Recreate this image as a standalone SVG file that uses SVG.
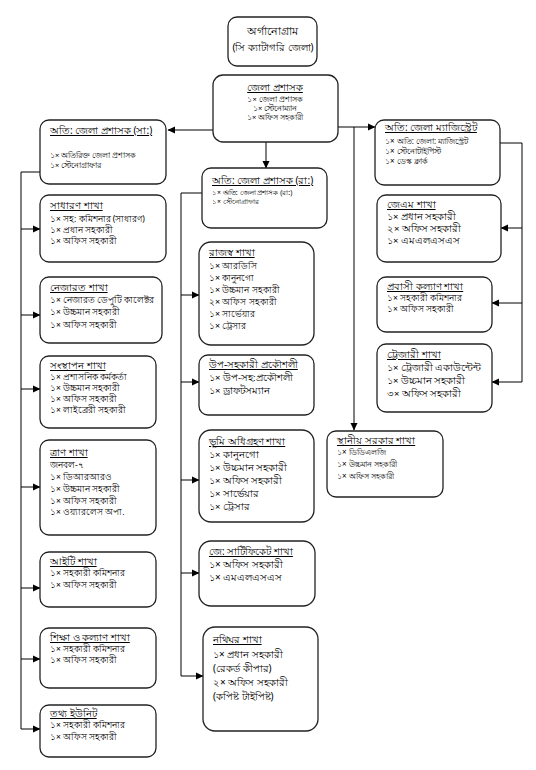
<svg xmlns="http://www.w3.org/2000/svg" width="536" height="770" viewBox="0 0 536 770">
<defs>
<marker id="ah" markerWidth="8" markerHeight="8" refX="7" refY="4" orient="auto" markerUnits="userSpaceOnUse">
<path d="M0,0.5 L7.5,4 L0,7.5 Z" fill="#000"/>
</marker>
<style>
.box{fill:#fff;stroke:#222;stroke-width:1.3}
text{font-family:"Noto Sans","DejaVu Sans",sans-serif;fill:#000}
.t{font-size:10px;text-decoration:underline}
.f7{font-size:7px}
.f75{font-size:7.5px}
.f8{font-size:8px}
.f85{font-size:8.5px}
.f9{font-size:9px}
.f95{font-size:9.5px}
.f10{font-size:10px}
.c{stroke:#000;stroke-width:1;fill:none}
</style>
</defs>
<rect width="536" height="770" fill="#fff"/>

<g id="connectors">
<line class="c" x1="213" y1="130" x2="168" y2="130" marker-end="url(#ah)"/>
<line class="c" x1="338" y1="127" x2="375" y2="127" marker-end="url(#ah)"/>
<line class="c" x1="266" y1="142" x2="266" y2="168" marker-end="url(#ah)"/>
<line class="c" x1="354" y1="127" x2="354" y2="430" marker-end="url(#ah)"/>
<polyline class="c" points="40,172 21,172 21,729"/>
<line class="c" x1="21" y1="229" x2="40" y2="229" marker-end="url(#ah)"/>
<line class="c" x1="21" y1="315" x2="40" y2="315" marker-end="url(#ah)"/>
<line class="c" x1="21" y1="389" x2="40" y2="389" marker-end="url(#ah)"/>
<line class="c" x1="21" y1="487" x2="40" y2="487" marker-end="url(#ah)"/>
<line class="c" x1="21" y1="588" x2="40" y2="588" marker-end="url(#ah)"/>
<line class="c" x1="21" y1="659" x2="40" y2="659" marker-end="url(#ah)"/>
<line class="c" x1="21" y1="729" x2="40" y2="729" marker-end="url(#ah)"/>
<polyline class="c" points="202,193 181,193 181,676"/>
<line class="c" x1="181" y1="295" x2="199" y2="295" marker-end="url(#ah)"/>
<line class="c" x1="181" y1="382" x2="199" y2="382" marker-end="url(#ah)"/>
<line class="c" x1="181" y1="480" x2="199" y2="480" marker-end="url(#ah)"/>
<line class="c" x1="181" y1="573" x2="199" y2="573" marker-end="url(#ah)"/>
<line class="c" x1="181" y1="676" x2="203" y2="676" marker-end="url(#ah)"/>
<polyline class="c" points="500,143 522,143 522,382"/>
<line class="c" x1="522" y1="228" x2="501" y2="228" marker-end="url(#ah)"/>
<line class="c" x1="522" y1="303" x2="492" y2="303" marker-end="url(#ah)"/>
<line class="c" x1="522" y1="382" x2="492" y2="382" marker-end="url(#ah)"/>
</g>

<g id="title">
<rect class="box" x="228" y="17" width="89" height="49" rx="9"/>
<text x="272" y="35" font-size="11" text-anchor="middle">অর্গানোগ্রাম</text>
<text x="273" y="51" font-size="10" text-anchor="middle">(সি ক্যাটাগরি জেলা)</text>
</g>

<g id="dc">
<rect class="box" x="213" y="75" width="125" height="67" rx="10"/>
<text class="t" x="275" y="91" text-anchor="middle">জেলা প্রশাসক</text>
<text class="f75" x="275" y="102" text-anchor="middle">১× জেলা প্রশাসক</text>
<text class="f75" x="275" y="111" text-anchor="middle">১× স্টেনোম্যান</text>
<text class="f75" x="275" y="120" text-anchor="middle">১× অফিস সহকারী</text>
</g>

<g id="adc-gen">
<rect class="box" x="40" y="120" width="126" height="64" rx="9"/>
<text class="t" x="50" y="134" font-size="9.5">অতি: জেলা প্রশাসক (সা:)</text>
<text class="f75" x="50" y="158">১× অতিরিক্ত জেলা প্রশাসক</text>
<text class="f75" x="50" y="168">১× স্টেনোগ্রাফার</text>
</g>

<g id="adc-rev">
<rect class="box" x="202" y="168" width="125" height="60" rx="9"/>
<text class="t" x="212" y="184">অতি: জেলা প্রশাসক (রা:)</text>
<text class="f7" x="212" y="195">১× অতি: জেলা প্রশাসক (রা:)</text>
<text class="f7" x="212" y="204">১× স্টেনোগ্রাফার</text>
</g>

<g id="adm">
<rect class="box" x="375" y="120" width="125" height="65" rx="9"/>
<text class="t" x="385" y="131">অতি: জেলা ম্যাজিস্ট্রেট</text>
<text class="f8" x="385" y="144">১× অতি: জেলা: ম্যাজিস্ট্রেট</text>
<text class="f8" x="385" y="154">১× স্টেনোটাইপিস্ট</text>
<text class="f8" x="385" y="164">১× ডেস্ক ক্লার্ক</text>
</g>

<g id="general">
<rect class="box" x="40" y="195" width="126" height="67" rx="9"/>
<text class="t" x="50" y="209">সাধারণ শাখা</text>
<text class="f85" x="50" y="222">১× সহ: কমিশনার (সাধারণ)</text>
<text class="f85" x="50" y="233">১× প্রধান সহকারী</text>
<text class="f85" x="50" y="244">১× অফিস সহকারী</text>
</g>

<g id="nezarat">
<rect class="box" x="40" y="277" width="122" height="66" rx="9"/>
<text class="t" x="50" y="291">নেজারত শাখা</text>
<text class="f85" x="50" y="303">১× নেজারত ডেপুটি কালেক্টর</text>
<text class="f85" x="50" y="315">১× উচ্চমান সহকারী</text>
<text class="f85" x="50" y="328">১× অফিস সহকারী</text>
</g>

<g id="establishment">
<rect class="box" x="40" y="356" width="116" height="72" rx="9"/>
<text class="t" x="50" y="369">সংস্থাপন শাখা</text>
<text class="f85" x="50" y="380">১× প্রশাসনিক কর্মকর্তা</text>
<text class="f85" x="50" y="391">১× উচ্চমান সহকারী</text>
<text class="f85" x="50" y="402">১× অফিস সহকারী</text>
<text class="f85" x="50" y="413">১× লাইব্রেরী সহকারী</text>
</g>

<g id="relief">
<rect class="box" x="40" y="440" width="116" height="95" rx="9"/>
<text class="t" x="50" y="456">ত্রাণ শাখা</text>
<text class="f85" x="50" y="468">জনবল-৭</text>
<text class="f85" x="50" y="480">১× ডিআরআরও</text>
<text class="f85" x="50" y="492">১× উচ্চমান সহকারী</text>
<text class="f85" x="50" y="504">১× অফিস সহকারী</text>
<text class="f85" x="50" y="515">১× ওয়্যারলেস অপা.</text>
</g>

<g id="it">
<rect class="box" x="40" y="552" width="116" height="55" rx="9"/>
<text class="t" x="50" y="565">আইটি শাখা</text>
<text class="f85" x="50" y="576">১× সহকারী কমিশনার</text>
<text class="f85" x="50" y="588">১× অফিস সহকারী</text>
</g>

<g id="education">
<rect class="box" x="40" y="628" width="116" height="60" rx="9"/>
<text class="t" x="50" y="641">শিক্ষা ও কল্যাণ শাখা</text>
<text class="f85" x="50" y="652">১× সহকারী কমিশনার</text>
<text class="f85" x="50" y="663">১× অফিস সহকারী</text>
</g>

<g id="info">
<rect class="box" x="40" y="705" width="116" height="52" rx="9"/>
<text class="t" x="50" y="717">তথ্য ইউনিট</text>
<text class="f85" x="50" y="728">১× সহকারী কমিশনার</text>
<text class="f85" x="50" y="740">১× অফিস সহকারী</text>
</g>

<g id="revenue">
<rect class="box" x="199" y="242" width="115" height="103" rx="12"/>
<text class="t" x="209" y="256" font-size="11">রাজস্ব শাখা</text>
<text class="f9" x="209" y="269">১× আরডিসি</text>
<text class="f9" x="209" y="281">১× কানুনগো</text>
<text class="f9" x="209" y="293">১× উচ্চমান সহকারী</text>
<text class="f9" x="209" y="305">২× অফিস সহকারী</text>
<text class="f9" x="209" y="317">১× সার্ভেয়ার</text>
<text class="f9" x="209" y="329">১× ট্রেসার</text>
</g>

<g id="engineer">
<rect class="box" x="199" y="355" width="115" height="60" rx="9"/>
<text class="t" x="209" y="368" font-size="9.5">উপ-সহকারী প্রকৌশলী</text>
<text class="f95" x="209" y="381">১× উপ-সহ:প্রকৌশলী</text>
<text class="f95" x="209" y="394">১× ড্রাফটসম্যান</text>
</g>

<g id="land">
<rect class="box" x="199" y="430" width="115" height="92" rx="12"/>
<text class="t" x="209" y="445">ভূমি অধিগ্রহণ শাখা</text>
<text class="f95" x="209" y="458">১× কানুনগো</text>
<text class="f95" x="209" y="471">১× উচ্চমান সহকারী</text>
<text class="f95" x="209" y="484">১× অফিস সহকারী</text>
<text class="f95" x="209" y="497">১× সার্ভেয়ার</text>
<text class="f95" x="209" y="510">১× ট্রেসার</text>
</g>

<g id="certificate">
<rect class="box" x="199" y="541" width="116" height="65" rx="12"/>
<text class="t" x="209" y="555">জে: সার্টিফিকেট শাখা</text>
<text class="f10" x="209" y="568">১× অফিস সহকারী</text>
<text class="f10" x="209" y="581">১× এমএলএসএস</text>
</g>

<g id="records">
<rect class="box" x="203" y="627" width="115" height="104" rx="12"/>
<text class="t" x="213" y="643">নথিঘর শাখা</text>
<text class="f10" x="213" y="658">১× প্রধান সহকারী</text>
<text class="f10" x="213" y="672">(রেকর্ড কীপার)</text>
<text class="f10" x="213" y="686">২× অফিস সহকারী</text>
<text class="f10" x="213" y="700">(কপিষ্ট টাইপিষ্ট)</text>
</g>

<g id="jm">
<rect class="box" x="377" y="195" width="124" height="67" rx="9"/>
<text class="t" x="387" y="208">জেএম শাখা</text>
<text class="f95" x="387" y="220">১× প্রধান সহকারী</text>
<text class="f95" x="387" y="232">২× অফিস সহকারী</text>
<text class="f95" x="387" y="244">১× এমএলএসএস</text>
</g>

<g id="expat">
<rect class="box" x="377" y="277" width="115" height="55" rx="9"/>
<text class="t" x="387" y="290">প্রবাসী কল্যাণ শাখা</text>
<text class="f85" x="387" y="301">১× সহকারী কমিশনার</text>
<text class="f85" x="387" y="312">১× অফিস সহকারী</text>
</g>

<g id="treasury">
<rect class="box" x="377" y="344" width="115" height="68" rx="9"/>
<text class="t" x="387" y="358" font-size="10.5">ট্রেজারী শাখা</text>
<text class="f95" x="387" y="371">১× ট্রেজারী একাউন্টেন্ট</text>
<text class="f95" x="387" y="384">১× উচ্চমান সহকারী</text>
<text class="f95" x="387" y="397">৩× অফিস সহকারী</text>
</g>

<g id="local-gov">
<rect class="box" x="327" y="431" width="116" height="66" rx="9"/>
<text class="t" x="337" y="444">স্থানীয় সরকার শাখা</text>
<text class="f8" x="337" y="455">১× ডিডিএলজি</text>
<text class="f8" x="337" y="467">১× উচ্চমান সহকারী</text>
<text class="f8" x="337" y="479">১× অফিস সহকারী</text>
</g>
</svg>
